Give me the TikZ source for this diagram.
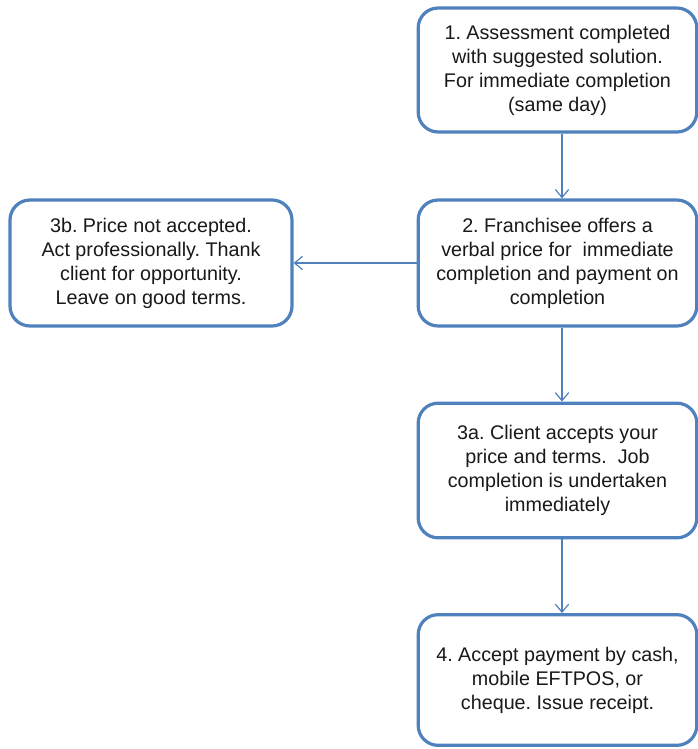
\documentclass[tikz,border=0pt]{standalone}
\usepackage{fontspec}
\setmainfont{Liberation Sans}
\usetikzlibrary{arrows.meta}
\definecolor{boxblue}{HTML}{4F81BD}
\frenchspacing
\begin{document}
\begin{tikzpicture}[x=0.75pt,y=-0.75pt,
  box/.style={draw=boxblue, line width=2.4pt, rounded corners=15pt, fill=white,
    minimum width=209pt, align=center, inner sep=0pt,
    font=\fontsize{14.8}{18}\selectfont, text=black!90},
  arr/.style={draw=boxblue, line width=0.9pt, -{Straight Barb[length=6pt,width=10pt,line width=0.9pt]}}]
\useasboundingbox (0,0) rectangle (697,749);
\node[box, minimum height=93pt] (b1) at (557.5,70) {1. Assessment completed\\with suggested solution.\\For immediate completion\\(same day)};
\node[box, minimum height=94.5pt] (b2) at (557.5,263) {2. Franchisee offers a\\verbal price for\ \ immediate\\completion and payment on\\completion};
\node[box, minimum height=94.5pt, minimum width=211.5pt] (b3b) at (151,263) {3b. Price not accepted.\\Act professionally. Thank\\client for opportunity.\\Leave on good terms.};
\node[box, minimum height=101pt] (b3a) at (557.5,470.5) {3a. Client accepts your\\price and terms.\ \ Job\\completion is undertaken\\immediately};
\node[box, minimum height=98pt] (b4) at (557.5,680) {4. Accept payment by cash,\\mobile EFTPOS, or\\cheque. Issue receipt.};
\coordinate (ax) at (562,0);
\draw[arr] (b1.south -| ax) -- (b2.north -| ax);
\draw[arr] (b2.west) -- (b3b.east);
\draw[arr] (b2.south -| ax) -- (b3a.north -| ax);
\draw[arr] (b3a.south -| ax) -- (b4.north -| ax);
\end{tikzpicture}
\end{document}
